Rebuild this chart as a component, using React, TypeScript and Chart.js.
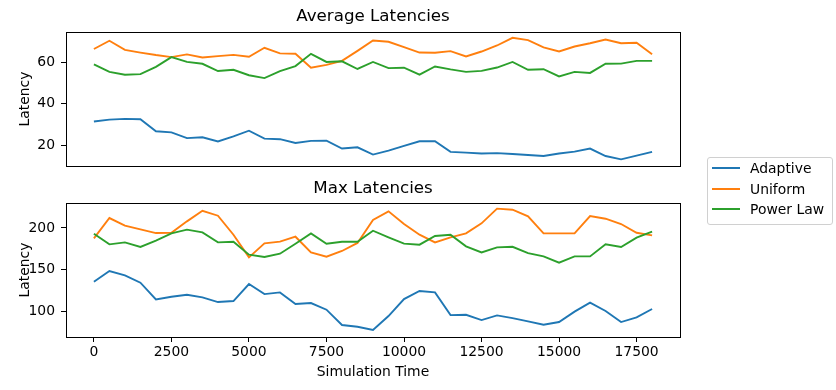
import React, { useEffect, useRef } from "react";
import { Chart, registerables } from "chart.js";

Chart.register(...registerables);

const simulationTime = [
  0, 500, 1000, 1500, 2000, 2500, 3000, 3500, 4000, 4500, 5000, 5500, 6000,
  6500, 7000, 7500, 8000, 8500, 9000, 9500, 10000, 10500, 11000, 11500, 12000,
  12500, 13000, 13500, 14000, 14500, 15000, 15500, 16000, 16500, 17000, 17500,
  18000,
];

const seriesNames = ["Adaptive", "Uniform", "Power Law"];
const seriesColors = ["#1f77b4", "#ff7f0e", "#2ca02c"];

const avgAdaptive = [
  31.4, 32.3, 32.7, 32.5, 26.7, 26.2, 23.4, 23.8, 21.8, 24.3, 27.0, 23.2, 22.9,
  21.1, 22.1, 22.2, 18.4, 19.0, 15.5, 17.4, 19.7, 21.9, 21.9, 16.8, 16.45, 16.0,
  16.2, 15.8, 15.3, 14.8, 16.0, 16.9, 18.4, 14.8, 13.2, 15.0, 16.8,
];
const avgUniform = [
  66.3, 70.3, 65.9, 64.6, 63.4, 62.4, 63.7, 62.2, 62.9, 63.5, 62.6, 66.9, 64.2,
  64.0, 57.3, 58.7, 60.6, 65.4, 70.4, 69.8, 67.2, 64.6, 64.5, 65.3, 62.7, 65.1,
  68.0, 71.7, 70.6, 67.1, 65.1, 67.5, 69.1, 70.9, 69.1, 69.3, 63.8,
];
const avgPowerLaw = [
  58.9, 55.3, 53.9, 54.2, 57.7, 62.4, 60.1, 59.2, 55.7, 56.3, 53.7, 52.3, 55.7,
  58.1, 64.0, 60.1, 60.4, 56.7, 60.1, 57.1, 57.3, 54.0, 57.9, 56.5, 55.3, 55.8,
  57.4, 60.1, 56.3, 56.6, 53.1, 55.3, 54.8, 59.2, 59.3, 60.6, 60.6,
];

const maxAdaptive = [
  135.3, 148.2, 142.9, 134.1, 114.0, 117.2, 119.6, 116.4, 110.8, 112.0, 132.5,
  120.4, 122.4, 108.4, 109.6, 101.6, 83.1, 81.0, 77.1, 93.9, 114.4, 124.1, 122.4,
  95.1, 95.5, 89.1, 94.7, 91.5, 87.5, 83.5, 86.7, 99.2, 110.0, 100.0, 86.7, 92.3,
  102.4,
];
const maxUniform = [
  187.5, 212.0, 202.8, 198.3, 193.9, 194.3, 208.0, 220.8, 214.8, 191.9, 164.6,
  181.5, 183.5, 189.5, 170.6, 165.4, 172.3, 182.0, 209.6, 220.0, 204.8, 191.9,
  182.7, 188.7, 193.5, 205.6, 223.3, 222.0, 214.0, 193.5, 193.5, 193.5, 214.4,
  211.2, 204.8, 194.3, 191.1,
];
const maxPowerLaw = [
  193.1, 180.3, 182.7, 177.1, 184.7, 193.5, 198.0, 194.7, 182.7, 183.5, 167.8,
  165.0, 169.0, 181.1, 193.5, 181.1, 183.5, 183.5, 196.7, 188.7, 181.1, 179.9,
  190.3, 191.9, 177.9, 170.6, 176.7, 177.4, 169.8, 165.8, 158.2, 165.8, 165.8,
  180.3, 177.1, 188.3, 195.5,
];

const xTickValues = [0, 2500, 5000, 7500, 10000, 12500, 15000, 17500];
const avgYTickValues = [20, 40, 60];
const maxYTickValues = [100, 150, 200];

const FONT = "'DejaVu Sans', 'Liberation Sans', sans-serif";
const TICK_SIZE = 13.9;
const TITLE_SIZE = 16.7;

const framePlugin = {
  id: "frame",
  afterDraw(chart: any) {
    const { ctx, chartArea: a } = chart;
    ctx.save();
    ctx.strokeStyle = "#000";
    ctx.lineWidth = 1;
    ctx.strokeRect(a.left + 0.5, a.top + 0.5, a.right - a.left, a.bottom - a.top);
    ctx.restore();
  },
};

function makeDatasets(values: number[][]) {
  return seriesNames.map((name, k) => ({
    label: name,
    data: simulationTime.map((t, i) => ({ x: t, y: values[k][i] })),
    borderColor: seriesColors[k],
    backgroundColor: seriesColors[k],
    borderWidth: 1.9,
    pointRadius: 0,
    tension: 0,
    fill: false,
    order: seriesNames.length - 1 - k,
  }));
}

function yScale(min: number, max: number, tickValues: number[]) {
  return {
    type: "linear",
    min,
    max,
    afterBuildTicks: (s: any) => {
      s.ticks = tickValues.map((v) => ({ value: v }));
    },
    afterFit: (s: any) => {
      s.width = 66;
    },
    grid: {
      drawOnChartArea: false,
      drawTicks: true,
      tickLength: 5,
      color: "#000",
      lineWidth: 1,
    },
    border: { display: false },
    ticks: {
      padding: 6,
      color: "#000",
      font: { family: FONT, size: TICK_SIZE },
      callback: (v: any) => String(v),
    },
    title: {
      display: true,
      text: "Latency",
      color: "#000",
      font: { family: FONT, size: TICK_SIZE },
      padding: { top: 17.4, bottom: 0 },
    },
  };
}

export default function App() {
  const topRef = useRef<HTMLCanvasElement | null>(null);
  const bottomRef = useRef<HTMLCanvasElement | null>(null);

  useEffect(() => {
    const top = new Chart(topRef.current as HTMLCanvasElement, {
      type: "line",
      data: { datasets: makeDatasets([avgAdaptive, avgUniform, avgPowerLaw]) as any },
      options: {
        responsive: false,
        animation: false,
        devicePixelRatio: 1,
        layout: { padding: { left: 0, right: 156, top: 0, bottom: 24 } },
        plugins: {
          legend: { display: false },
          tooltip: { enabled: false },
          title: {
            display: true,
            text: "Average Latencies",
            fullSize: false,
            color: "#000",
            font: { family: FONT, size: TITLE_SIZE, weight: "normal" },
            padding: { top: 7, bottom: 4.96 },
          },
        },
        scales: {
          x: { type: "linear", display: false, min: -900, max: 18900 },
          y: yScale(10, 74.5, avgYTickValues) as any,
        },
      } as any,
      plugins: [framePlugin],
    });

    const bottom = new Chart(bottomRef.current as HTMLCanvasElement, {
      type: "line",
      data: { datasets: makeDatasets([maxAdaptive, maxUniform, maxPowerLaw]) as any },
      options: {
        responsive: false,
        animation: false,
        devicePixelRatio: 1,
        layout: { padding: { left: 0, right: 156, top: 0, bottom: 0 } },
        plugins: {
          legend: { display: false },
          tooltip: { enabled: false },
          title: {
            display: true,
            text: "Max Latencies",
            fullSize: false,
            color: "#000",
            font: { family: FONT, size: TITLE_SIZE, weight: "normal" },
            padding: { top: 6.7, bottom: 4.26 },
          },
        },
        scales: {
          x: {
            type: "linear",
            min: -900,
            max: 18900,
            afterBuildTicks: (s: any) => {
              s.ticks = xTickValues.map((v) => ({ value: v }));
            },
            afterFit: (s: any) => {
              s.height = 53;
            },
            grid: {
              drawOnChartArea: false,
              drawTicks: true,
              tickLength: 5,
              color: "#000",
              lineWidth: 1,
            },
            border: { display: false },
            ticks: {
              padding: 2,
              color: "#000",
              maxRotation: 0,
              autoSkip: false,
              font: { family: FONT, size: TICK_SIZE },
              callback: (v: any) => String(v),
            },
            title: {
              display: true,
              text: "Simulation Time",
              color: "#000",
              font: { family: FONT, size: TICK_SIZE },
              padding: { top: 0, bottom: 9.66 },
            },
          },
          y: yScale(68.7, 230.1, maxYTickValues) as any,
        },
      } as any,
      plugins: [framePlugin],
    });

    return () => {
      top.destroy();
      bottom.destroy();
    };
  }, []);

  const rowCenters = seriesNames.map((_, i) => 10.3 + 20.5 * i);

  return (
    <div
      style={{
        position: "absolute",
        left: 0,
        top: 0,
        width: 836,
        height: 390,
        background: "#fff",
        overflow: "hidden",
      }}
    >
      <canvas
        ref={topRef}
        width={836}
        height={190}
        style={{ position: "absolute", left: 0, top: 0, width: 836, height: 190, display: "block" }}
      />
      <canvas
        ref={bottomRef}
        width={836}
        height={218}
        style={{ position: "absolute", left: 0, top: 172, width: 836, height: 218, display: "block" }}
      />
      <div
        style={{
          position: "absolute",
          left: 707,
          top: 157,
          width: 126,
          height: 68,
          boxSizing: "border-box",
          border: "1px solid #d0d0d0",
          borderRadius: 3,
          background: "rgba(255,255,255,0.8)",
          fontFamily: FONT,
          fontSize: TICK_SIZE,
          color: "#000",
        }}
      >
        {seriesNames.map((name, i) => (
          <div
            key={name}
            style={{
              position: "absolute",
              left: 0,
              top: rowCenters[i] - 10,
              height: 20,
              display: "flex",
              alignItems: "center",
              whiteSpace: "nowrap",
            }}
          >
            <span
              style={{
                display: "inline-block",
                marginLeft: 4,
                width: 28,
                height: 2,
                background: seriesColors[i],
              }}
            />
            <span style={{ marginLeft: 10, lineHeight: "20px" }}>{name}</span>
          </div>
        ))}
      </div>
    </div>
  );
}
